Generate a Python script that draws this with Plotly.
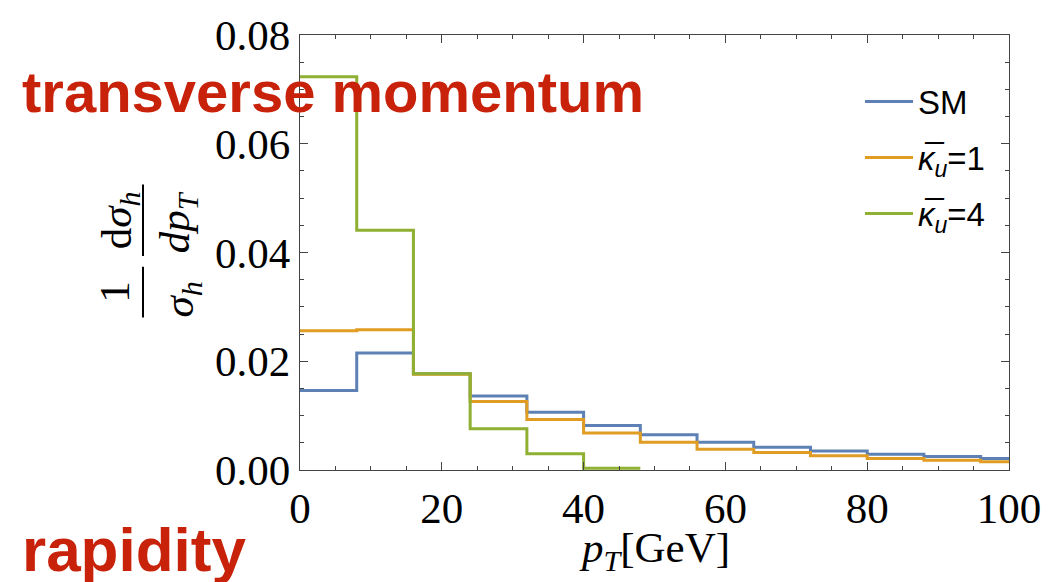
import plotly.graph_objects as go

# Bin edges (GeV)
edges_main = [0, 8, 16, 24, 32, 40, 48, 56, 64, 72, 80, 88, 96, 100]
edges_k4 = [0, 8, 16, 24, 32, 40, 48]

# Normalised distributions per bin
sm_vals = [0.0146, 0.0215, 0.0177, 0.0136, 0.0106, 0.0082, 0.0065,
           0.0051, 0.0042, 0.0035, 0.0029, 0.0025, 0.0021]
k1_vals = [0.0256, 0.0258, 0.0176, 0.0126, 0.0093, 0.0068, 0.0051,
           0.0038, 0.0032, 0.0026, 0.0021, 0.0018, 0.0015]
k4_vals = [0.0723, 0.0441, 0.0177, 0.0076, 0.0030, 0.0003]

series_names = ["SM", "<i>κ̅</i><sub><i>u</i></sub>=1", "<i>κ̅</i><sub><i>u</i></sub>=4"]
colors = ["#5E81B5", "#E19C24", "#8FB032"]

x_ticks = [0, 20, 40, 60, 80, 100]
y_ticks = [0.00, 0.02, 0.04, 0.06, 0.08]

W, H = 1059, 582
L, R, T, B = 300, 50, 31, 112
PW, PH = W - L - R, H - T - B


def px(xp):
    return (xp - L) / PW


def py(yp):
    return (H - B - yp) / PH


fig = go.Figure()
for name, vals, edges, col in [(series_names[0], sm_vals, edges_main, colors[0]),
                               (series_names[1], k1_vals, edges_main, colors[1]),
                               (series_names[2], k4_vals, edges_k4, colors[2])]:
    fig.add_trace(go.Scatter(
        x=edges, y=vals + [vals[-1]], mode="lines", name=name,
        line=dict(color=col, width=3, shape="hv"),
        legendgroup=name,
    ))

axis_common = dict(
    showgrid=False, zeroline=False, showline=True, linecolor="#444", linewidth=1.2,
    mirror="ticks", ticks="inside", ticklen=8, tickwidth=1, tickcolor="#444",
    tickfont=dict(family="Liberation Serif", size=43, color="black"),
)
fig.update_xaxes(range=[0, 100], tickvals=x_ticks,
                 minor=dict(dtick=5, ticks="inside", ticklen=4, tickcolor="#444"),
                 **axis_common)
fig.update_yaxes(range=[0, 0.08], tickvals=y_ticks, tickformat=".2f",
                 minor=dict(dtick=0.005, ticks="inside", ticklen=4, tickcolor="#444"),
                 **axis_common)

serif = dict(family="Liberation Serif", size=43, color="black")
ann = []
# y-axis label (rotated fractions)
ann.append(dict(text="1", x=px(115), y=py(290), textangle=-90, font=serif))
ann.append(dict(text="<i>σ</i><sub><i>h</i></sub>", x=px(182), y=py(298), textangle=-90, font=serif))
ann.append(dict(text="d<i>σ</i><sub><i>h</i></sub>", x=px(120), y=py(218), textangle=-90, font=serif))
ann.append(dict(text="<i>dp</i><sub><i>T</i></sub>", x=px(178), y=py(220), textangle=-90, font=serif))
# x-axis label
ann.append(dict(text="<i>p</i><sub><i>T</i></sub>[GeV]", x=px(654), y=py(552), font=serif))
# overlay labels
red = "#C8230A"
ann.append(dict(text="<b>transverse momentum</b>", x=px(20), y=py(88), xanchor="left",
                font=dict(family="Liberation Sans", size=58, color=red)))
ann.append(dict(text="<b>rapidity</b>", x=px(20), y=py(550), xanchor="left",
                font=dict(family="Liberation Sans", size=62, color=red)))
for a in ann:
    a.update(xref="paper", yref="paper", showarrow=False)
    a.setdefault("xanchor", "center")
    a.setdefault("yanchor", "middle")

shapes = [
    dict(type="line", xref="paper", yref="paper", x0=px(143), x1=px(143), y0=py(265), y1=py(316),
         line=dict(color="black", width=2)),
    dict(type="line", xref="paper", yref="paper", x0=px(143), x1=px(143), y0=py(182), y1=py(254),
         line=dict(color="black", width=2)),
]

fig.update_layout(
    width=W, height=H, margin=dict(l=L, r=R, t=T, b=B),
    paper_bgcolor="white", plot_bgcolor="white",
    annotations=ann, shapes=shapes,
    showlegend=True,
    legend=dict(x=px(860), y=py(70), xanchor="left", yanchor="top",
                bgcolor="rgba(0,0,0,0)", tracegroupgap=10, traceorder="grouped",
                itemwidth=48,
                font=dict(family="Liberation Sans", size=33, color="black")),
)

fig.write_html("out.html")
